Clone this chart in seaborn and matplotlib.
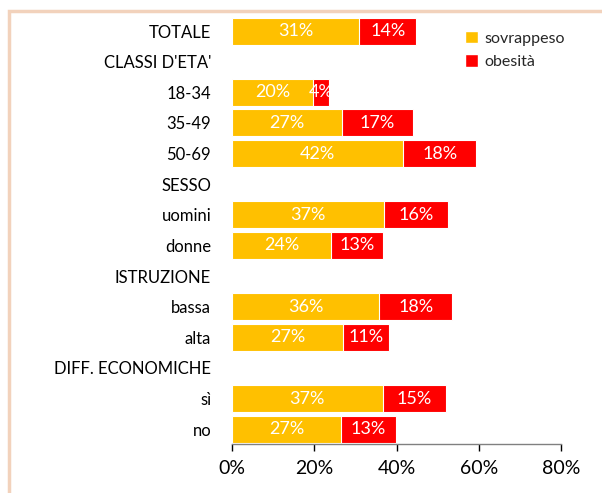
import matplotlib
matplotlib.use("Agg")
import matplotlib.pyplot as plt
import seaborn as sns
import pandas as pd
from matplotlib.patches import Rectangle, Patch

rows = ["TOTALE", "CLASSI D'ETA'", "18-34", "35-49", "50-69", "SESSO",
        "uomini", "donne", "ISTRUZIONE", "bassa", "alta",
        "DIFF. ECONOMICHE", "sì", "no"]
categories = ["TOTALE", "18-34", "35-49", "50-69", "uomini", "donne",
              "bassa", "alta", "sì", "no"]
sovrappeso = [30.9, 19.7, 26.8, 41.6, 37.0, 24.1, 35.8, 27.0, 36.6, 26.6]
obesita = [13.9, 3.9, 17.2, 17.8, 15.6, 12.6, 17.7, 11.2, 15.4, 13.2]
xticks = [0, 20, 40, 60, 80]

YELLOW = "#FFC000"
RED = "#FF0000"

sns.set_theme(style="white")
plt.rcParams["font.family"] = ["Lato", "DejaVu Sans"]

df = pd.DataFrame({"cat": categories, "sov": sovrappeso, "ob": obesita})
df["tot"] = df["sov"] + df["ob"]

fig = plt.figure(figsize=(6.02, 4.93), dpi=100)
ax = fig.add_axes([0.3854, 0.0984, 0.5465, 0.8696])

sns.barplot(data=df, x="tot", y="cat", order=rows, color=RED, saturation=1,
            width=0.88, edgecolor="white", linewidth=0.8, ax=ax, orient="h")
sns.barplot(data=df, x="sov", y="cat", order=rows, color=YELLOW, saturation=1,
            width=0.88, edgecolor="white", linewidth=0.8, ax=ax, orient="h")

pos = {r: i for i, r in enumerate(rows)}
for c, s, o in zip(categories, sovrappeso, obesita):
    y = pos[c]
    ax.text(s / 2, y, f"{s:.0f}%", color="white", ha="center", va="center", fontsize=13)
    ax.text(s + o / 2, y, f"{o:.0f}%", color="white", ha="center", va="center", fontsize=13)

ax.set_xlim(0, 80)
ax.set_ylim(len(rows) - 0.5, -0.5)
ax.set_xticks(xticks)
ax.set_xticklabels([f"{t}%" for t in xticks])
ax.set_xlabel("")
ax.set_ylabel("")
ax.tick_params(axis="y", left=False, length=0, labelsize=12, pad=15, colors="black")
ax.tick_params(axis="x", bottom=True, length=5, width=1, direction="out",
               labelsize=14, pad=6, colors="black")
for t in ax.get_xticklines():
    t.set_color("#808080")
for sp in ["top", "right", "left"]:
    ax.spines[sp].set_visible(False)
ax.spines["bottom"].set_color("#808080")
ax.spines["bottom"].set_linewidth(1)

handles = [Patch(facecolor=YELLOW, label="sovrappeso"), Patch(facecolor=RED, label="obesità")]
ax.legend(handles=handles, loc="upper left", bbox_to_anchor=(0.665, 0.998), frameon=False,
          fontsize=11.5, handlelength=0.8, handleheight=0.8, handletextpad=0.4, labelspacing=0.55)

fig.patches.append(Rectangle((9 / 602, -0.1), 1.2, 1 - 11 / 493 + 0.1,
                             transform=fig.transFigure, fill=False,
                             edgecolor="#F2D2BC", linewidth=2.5))

fig.savefig("out.png", dpi=100)
